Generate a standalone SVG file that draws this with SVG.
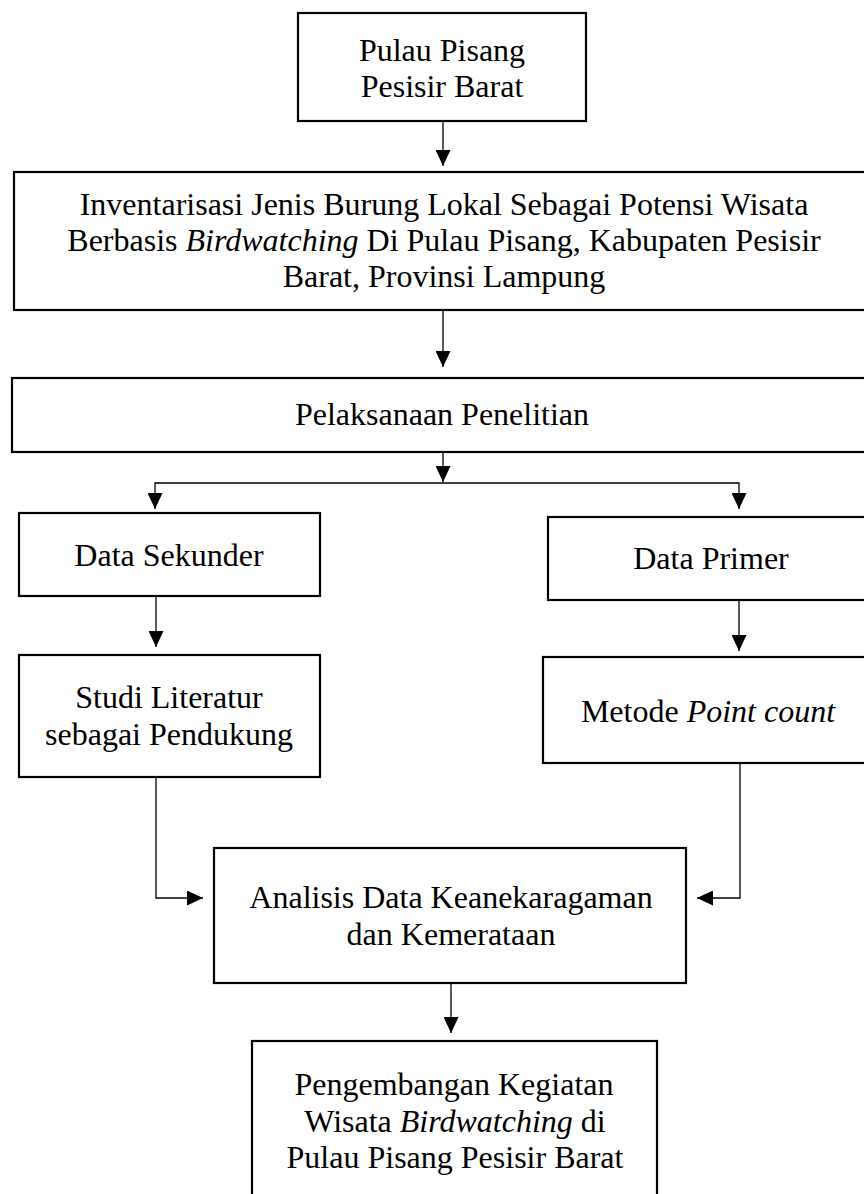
<svg xmlns="http://www.w3.org/2000/svg" width="864" height="1194" viewBox="0 0 864 1194">
<style>
.box{fill:#fff;stroke:#000;stroke-width:2.2}
.t{font-family:"Liberation Serif","Times New Roman",serif;font-size:32px;fill:#000;text-anchor:middle}
.i{font-style:italic}
.c{fill:none;stroke:#000;stroke-width:1.3}
</style>
<defs>
<marker id="ah" viewBox="0 0 16 15" refX="16" refY="7.5" markerWidth="16" markerHeight="15" markerUnits="userSpaceOnUse" orient="auto">
<path d="M0,0 L16,7.5 L0,15 z" fill="#000"/>
</marker>
</defs>
<rect width="864" height="1194" fill="#fff"/>
<g id="connectors">
<path class="c" d="M443,121 V166" marker-end="url(#ah)"/>
<path class="c" d="M443,310 V367" marker-end="url(#ah)"/>
<path class="c" d="M443,452 V482" marker-end="url(#ah)"/>
<path class="c" d="M443,483 H155 V509" marker-end="url(#ah)"/>
<path class="c" d="M443,483 H739 V509" marker-end="url(#ah)"/>
<path class="c" d="M156,596 V647" marker-end="url(#ah)"/>
<path class="c" d="M739,600 V651" marker-end="url(#ah)"/>
<path class="c" d="M156,777 V898 H203" marker-end="url(#ah)"/>
<path class="c" d="M740,763 V898 H697" marker-end="url(#ah)"/>
<path class="c" d="M451,983 V1033" marker-end="url(#ah)"/>
</g>
<g id="n1">
<rect class="box" x="298" y="13" width="288" height="108"/>
<text class="t" x="442" y="61">Pulau Pisang</text>
<text class="t" x="442" y="97">Pesisir Barat</text>
</g>
<g id="n2">
<rect class="box" x="14" y="172" width="854" height="138"/>
<text class="t" x="444" y="215">Inventarisasi Jenis Burung Lokal Sebagai Potensi Wisata</text>
<text class="t" x="444" y="251">Berbasis <tspan class="i">Birdwatching</tspan> Di Pulau Pisang, Kabupaten Pesisir</text>
<text class="t" x="444" y="287">Barat, Provinsi Lampung</text>
</g>
<g id="n3">
<rect class="box" x="12" y="378" width="856" height="74"/>
<text class="t" x="442" y="425">Pelaksanaan Penelitian</text>
</g>
<g id="n4">
<rect class="box" x="19" y="513" width="301" height="83"/>
<text class="t" x="169" y="566">Data Sekunder</text>
</g>
<g id="n5">
<rect class="box" x="548" y="517" width="320" height="83"/>
<text class="t" x="711" y="569">Data Primer</text>
</g>
<g id="n6">
<rect class="box" x="19" y="655" width="301" height="122"/>
<text class="t" x="169" y="708">Studi Literatur</text>
<text class="t" x="169" y="745">sebagai Pendukung</text>
</g>
<g id="n7">
<rect class="box" x="543" y="657" width="325" height="106"/>
<text class="t" x="708" y="722">Metode <tspan class="i">Point count</tspan></text>
</g>
<g id="n8">
<rect class="box" x="214" y="848" width="472" height="135"/>
<text class="t" x="451" y="908">Analisis Data Keanekaragaman</text>
<text class="t" x="451" y="945">dan Kemerataan</text>
</g>
<g id="n9">
<rect class="box" x="252" y="1041" width="405" height="160"/>
<text class="t" x="454" y="1095">Pengembangan Kegiatan</text>
<text class="t" x="455" y="1132">Wisata <tspan class="i">Birdwatching</tspan> di</text>
<text class="t" x="455" y="1168">Pulau Pisang Pesisir Barat</text>
</g>
</svg>
